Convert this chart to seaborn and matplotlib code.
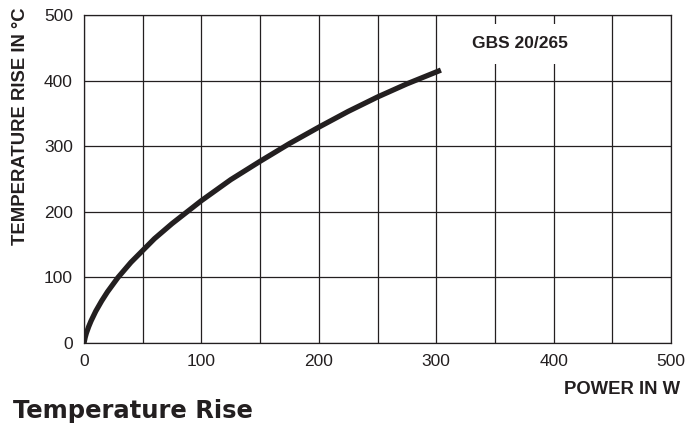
"""
Temperature rise vs. power curve for the GBS 20/265 resistor.
"""

import pandas as pd
import matplotlib
matplotlib.use("Agg")
import matplotlib.pyplot as plt
import seaborn as sns

# ── Data ───────────────────────────────────────────────────────────────────
power_w = [0, 1, 2, 4, 6, 10, 15, 20, 29, 40, 50, 60, 75, 100,
           125, 150, 175, 200, 225, 250, 275, 304]
temp_rise_c = [0, 8.6, 15, 25, 33.6, 48.4, 64, 78, 100, 123, 141, 159, 182, 217,
               249, 277, 304, 329, 353, 375, 395, 416]
series_label = "GBS 20/265"
x_ticks = [0, 100, 200, 300, 400, 500]
y_ticks = [0, 100, 200, 300, 400, 500]

INK = "#231f20"

df = pd.DataFrame({"power": power_w, "temp": temp_rise_c})

sns.set_style("white")
plt.rcParams["font.family"] = ["Liberation Sans", "DejaVu Sans"]

fig = plt.figure(figsize=(6.94, 4.23), dpi=100)
ax = fig.add_axes([84 / 694, 1 - 343 / 423, 587 / 694, 328 / 423])

sns.lineplot(data=df, x="power", y="temp", ax=ax, color=INK, linewidth=3.8,
             solid_capstyle="butt", solid_joinstyle="round", zorder=4)

# ── Axes / grid ───────────────────────────────────────────────────────────
ax.set_xlim(0, 500)
ax.set_ylim(0, 500)
ax.set_xticks(x_ticks)
ax.set_xticks(range(0, 501, 50), minor=True)
ax.set_yticks(y_ticks)
ax.grid(which="both", color=INK, linewidth=0.9)
ax.set_axisbelow(True)
ax.tick_params(which="both", length=0, labelsize=12.5, labelcolor=INK)
ax.tick_params(axis="x", pad=8)
ax.tick_params(axis="y", pad=8)
for sp in ax.spines.values():
    sp.set_color(INK)
    sp.set_linewidth(0.9)
ax.set_xlabel("")
ax.set_ylabel("")

# curve label on a white patch over the grid
ax.text(371, 456, series_label, ha="center", va="center", fontsize=12.5,
        fontweight="bold", color=INK, zorder=5,
        bbox=dict(facecolor="white", edgecolor="none", pad=9))

# ── Axis titles and chart title ────────────────────────────────────────────
fig.text(680 / 694, 1 - 394 / 423, "POWER IN W", ha="right", va="baseline",
         fontsize=13.3, fontweight="bold", color=INK)
fig.text(21 / 694, 1 - 7 / 423, "TEMPERATURE RISE IN °C", rotation=90,
         ha="center", va="top", fontsize=13.3, fontweight="bold", color=INK)
fig.text(13 / 694, 1 - 418 / 423, "Temperature Rise", ha="left", va="baseline",
         fontsize=17.5, fontweight="bold", family=["DejaVu Sans"],
         color=INK)

fig.savefig("out.png", dpi=100)
